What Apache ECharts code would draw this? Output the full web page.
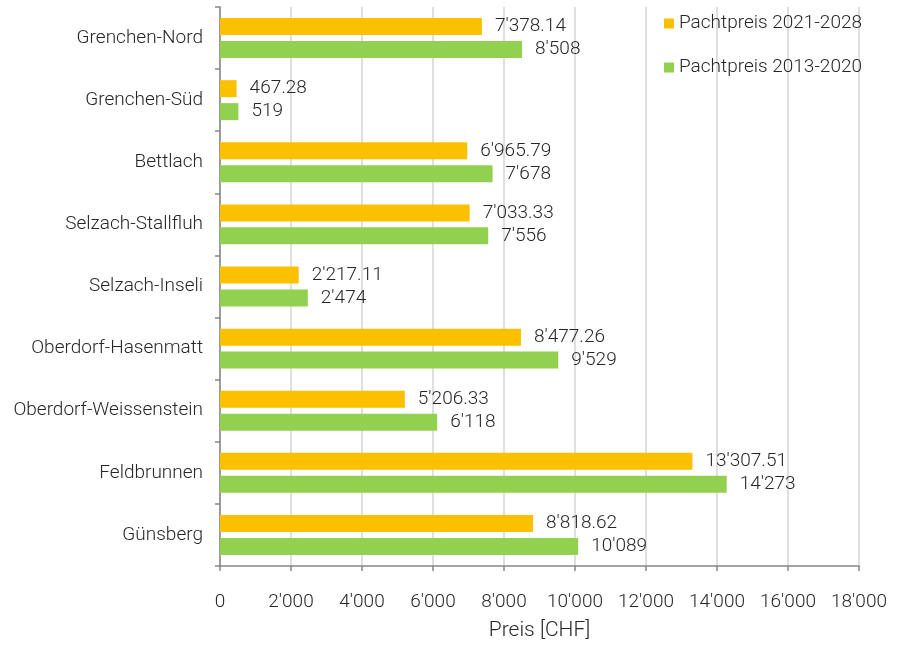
<!DOCTYPE html>
<html>
<head>
<meta charset="utf-8">
<script src="https://cdn.jsdelivr.net/npm/echarts@6/dist/echarts.min.js"></script>
<style>
  html, body { margin: 0; padding: 0; background: #fff; }
  #chart { width: 901px; height: 646px; }
</style>
</head>
<body>
<div id="chart"></div>
<script>
var categories = ['Grenchen-Nord', 'Grenchen-Süd', 'Bettlach', 'Selzach-Stallfluh', 'Selzach-Inseli',
  'Oberdorf-Hasenmatt', 'Oberdorf-Weissenstein', 'Feldbrunnen', 'Günsberg'];
var preis2021 = [7378.14, 467.28, 6965.79, 7033.33, 2217.11, 8477.26, 5206.33, 13307.51, 8818.62];
var preis2013 = [8508, 519, 7678, 7556, 2474, 9529, 6118, 14273, 10089];

var FONT = 'Roboto';
var TXT = '#262626';
var FS = 19;

// 1234.5 -> 1'234.50
function fmt(v) {
  var s = Number.isInteger(v) ? String(v) : v.toFixed(2);
  var parts = s.split('.');
  parts[0] = parts[0].replace(/\B(?=(\d{3})+(?!\d))/g, "'");
  return parts.join('.');
}

var chart = echarts.init(document.getElementById('chart'));
chart.setOption({
  animation: false,
  textStyle: { fontFamily: FONT, fontWeight: 300, color: TXT },
  legend: {
    orient: 'vertical',
    left: 659,
    top: 9,
    itemWidth: 10,
    itemHeight: 10,
    itemGap: 25,
    icon: 'rect',
    textStyle: { fontSize: FS, fontFamily: FONT, fontWeight: 300, color: TXT }
  },
  grid: { left: 220, right: 42, top: 7, bottom: 71, containLabel: false },
  xAxis: {
    type: 'value',
    min: 0,
    max: 18000,
    interval: 2000,
    name: 'Preis [CHF]',
    nameLocation: 'middle',
    nameGap: 54,
    nameTextStyle: { fontSize: 21, fontFamily: FONT, fontWeight: 300, color: TXT },
    axisLine: { show: true, lineStyle: { color: '#868686', width: 1.5 } },
    axisTick: { show: true, length: 5, lineStyle: { color: '#868686', width: 1.5 } },
    axisLabel: { fontSize: FS, margin: 27, color: TXT, fontFamily: FONT, fontWeight: 300, formatter: fmt },
    splitLine: { show: true, lineStyle: { color: '#d4d4d4', width: 1.5 } }
  },
  yAxis: {
    type: 'category',
    data: categories,
    inverse: true,
    axisLine: { show: true, lineStyle: { color: '#868686', width: 1.5 } },
    axisTick: { show: true, length: 5, lineStyle: { color: '#868686', width: 1.5 } },
    axisLabel: { fontSize: FS, margin: 17, color: TXT, fontFamily: FONT, fontWeight: 300 }
  },
  series: [
    {
      name: 'Pachtpreis 2021-2028',
      type: 'bar',
      data: preis2021,
      barWidth: 17,
      barGap: '35%',
      itemStyle: { color: '#FBC000' },
      label: {
        show: true, position: 'right', distance: 13, fontSize: FS,
        color: TXT, fontFamily: FONT, fontWeight: 300,
        formatter: function (p) { return fmt(p.value); }
      }
    },
    {
      name: 'Pachtpreis 2013-2020',
      type: 'bar',
      data: preis2013,
      barWidth: 17,
      itemStyle: { color: '#92D050' },
      label: {
        show: true, position: 'right', distance: 13, fontSize: FS,
        color: TXT, fontFamily: FONT, fontWeight: 300,
        formatter: function (p) { return fmt(p.value); }
      }
    }
  ]
});
</script>
</body>
</html>
